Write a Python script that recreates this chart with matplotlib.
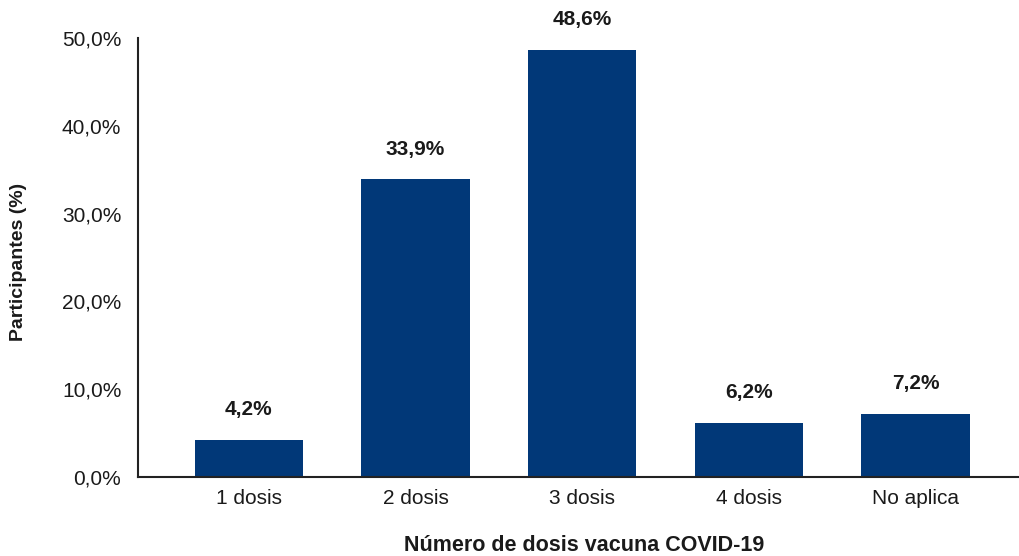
import matplotlib
matplotlib.use("Agg")
import matplotlib.pyplot as plt
from matplotlib.ticker import FuncFormatter

plt.rcParams['font.family'] = ['Liberation Sans', 'DejaVu Sans']

categories = ["1 dosis", "2 dosis", "3 dosis", "4 dosis", "No aplica"]
values = [4.2, 33.9, 48.6, 6.2, 7.2]
yticks = [0, 10, 20, 30, 40, 50]

W, H = 1019, 556
fig = plt.figure(figsize=(W / 100, H / 100), dpi=100)
ax = fig.add_axes([138 / W, 79 / H, 1 - 138 / W, (477 - 38) / H])

bar_color = "#013878"
x = list(range(len(categories)))
bars = ax.bar(x, values, width=0.65, color=bar_color, zorder=2)

for b, v in zip(bars, values):
    ax.annotate(f"{v:.1f}%".replace(".", ","),
                xy=(b.get_x() + b.get_width() / 2, v),
                xytext=(0, 15), textcoords="offset points",
                ha="center", va="bottom", fontsize=15, fontweight="bold",
                color="#1a1a1a")

ax.set_xlim(-0.665, 4.62)
ax.set_ylim(0, 50)
ax.set_yticks(yticks)
ax.yaxis.set_major_formatter(FuncFormatter(lambda v, p: f"{v:.1f}%".replace(".", ",")))
ax.set_xticks(x)
ax.set_xticklabels(categories)
ax.tick_params(axis="both", length=0, labelsize=15, colors="#1a1a1a")
ax.tick_params(axis="y", pad=12)
ax.tick_params(axis="x", pad=9)

for s in ["top", "right"]:
    ax.spines[s].set_visible(False)
for s in ["left", "bottom"]:
    ax.spines[s].set_linewidth(1.5)
    ax.spines[s].set_color("#222222")

fig.text(19 / W, 1 - 262 / H, "Participantes (%)", rotation=90,
         ha="center", va="center", fontsize=14, fontweight="bold", color="#1a1a1a")
fig.text(584 / W, 1 - 551 / H, "Número de dosis vacuna COVID-19",
         ha="center", va="baseline", fontsize=15.5, fontweight="bold", color="#1a1a1a")

fig.savefig("out.png", dpi=100)
